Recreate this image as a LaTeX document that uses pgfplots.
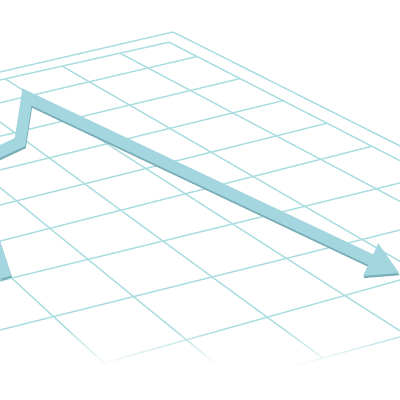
\documentclass[border=0pt]{standalone}
\usepackage{pgfplots}
\pgfplotsset{compat=1.18}
\usetikzlibrary{arrows.meta,fadings}
\definecolor{gridc}{RGB}{170,221,224}
\definecolor{arrowc}{RGB}{163,214,222}
\definecolor{arrowsh}{RGB}{122,174,182}
\tikzfading[name=fadedown, top color=transparent!100, bottom color=transparent!0]
\begin{document}
\begin{tikzpicture}
\begin{axis}[width=10cm, height=10cm, scale only axis,
    xmin=0, xmax=400, ymin=0, ymax=400, y dir=reverse,
    hide axis]
% lines running down to the right (frame, inner frame, rows)
\addplot[gridc, line width=1pt, empty line=jump] table {
x y
173 32
646.5 269.6

169.1 42.2
621.8 274.5

120.0 53.2
567.1 289.8

62.0 66.0
487.5 312.0

5.5 79.0
406.2 334.8

-52.0 84.0
323.0 358.0

-110.3 97.5
237.9 381.8

-169.6 111.2
150.8 406.1

-229.7 125.1
61.8 431.0
};
% lines running down to the left (frame, inner frame, columns, bottom edge)
\addplot[gridc, line width=1pt, empty line=jump] table {
x y
173 32
-30 78.9

169.1 42.2
-30 86.7

197.0 56.5
-30 109.8

240.0 78.6
-30 143.4

283.0 100.6
-30 177.3

327.0 123.2
-30 212.5

372.0 146.2
-30 248.7

430.0 175.6
-30 288.3

490.8 207.3
-30 337.5

550.4 237.9
-30 400.4

646.5 269.6
-30 454.3
};
% fade towards the bottom
\addplot[draw=none, fill=white, path fading=fadedown]
    coordinates {(0,328) (400,328) (400,366) (0,366)} -- cycle;
\addplot[draw=none, fill=white]
    coordinates {(0,365) (400,365) (400,400) (0,400)} -- cycle;
% the arrow: shadow first, then the face
\addplot[arrowsh, line width=8.2pt, line join=miter,
    -{Triangle[width=25.6pt,length=22.3pt,line width=0pt]},
    xshift=0.4pt, yshift=-1.6pt]
    coordinates {(6,277) (-31,166) (20,142) (27,97) (399,273)};
\addplot[arrowc, line width=8.2pt, line join=miter,
    -{Triangle[width=25.6pt,length=22.3pt,line width=0pt]}]
    coordinates {(6,277) (-31,166) (20,142) (27,97) (399,273)};
\end{axis}
\pgfresetboundingbox
\useasboundingbox (current axis.south west) rectangle (current axis.north east);
\end{tikzpicture}
\end{document}
